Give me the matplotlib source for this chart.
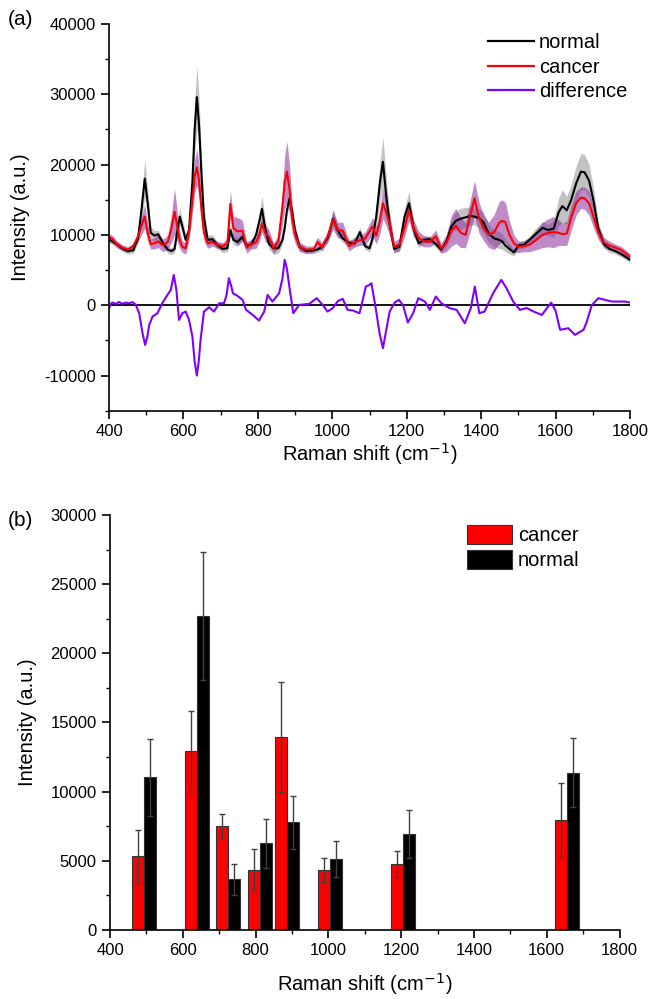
import numpy as np
import matplotlib
matplotlib.use("Agg")
import matplotlib.pyplot as plt
from matplotlib.patches import Patch
from matplotlib.lines import Line2D

plt.rcParams['font.family'] = ['Liberation Sans', 'DejaVu Sans']
plt.rcParams['axes.unicode_minus'] = False

# ---- panel (a): mean spectra ----
shift = [400, 410, 420, 435, 450, 465, 478, 487, 496, 504, 512, 522, 532, 545, 558, 568,
         576, 583, 590, 597, 606, 615, 624, 630, 636, 642, 648, 655, 665, 678, 690, 705,
         718, 726, 734, 745, 758, 770, 782, 795, 804, 811, 820, 830, 842, 855, 866, 872,
         878, 885, 892, 900, 912, 930, 950, 960, 972, 988, 1002, 1014, 1028, 1045, 1060,
         1074, 1088, 1100, 1108, 1118, 1128, 1136, 1144, 1154, 1166, 1180, 1194, 1206,
         1218, 1232, 1246, 1262, 1278, 1292, 1306, 1320, 1332, 1345, 1358, 1370, 1382,
         1394, 1406, 1420, 1435, 1448, 1456, 1465, 1476, 1488, 1500, 1515, 1530, 1548,
         1565, 1580, 1595, 1608, 1618, 1630, 1642, 1655, 1668, 1678, 1690, 1702, 1715,
         1730, 1745, 1760, 1775, 1790, 1800]

normal = [9400, 9000, 8700, 8100, 7700, 7800, 9500, 13500, 18000, 14500, 10300, 9900, 10100,
          8800, 7900, 7700, 8000, 10400, 12600, 11200, 9300, 10700, 17500, 25000, 29600,
          25500, 19000, 12500, 9300, 9400, 8600, 8000, 8100, 10700, 9300, 9000, 9700, 8500,
          8600, 10000, 12000, 13700, 10800, 8700, 8100, 8100, 9300, 11000, 13500, 15200,
          13300, 10500, 8300, 7700, 7800, 7900, 8300, 9600, 12300, 10700, 9500, 8900, 8800,
          10400, 8400, 8100, 9500, 12600, 17500, 20400, 16000, 11500, 8000, 8300, 12600,
          14500, 11000, 8800, 9300, 9400, 8700, 7900, 9000, 11200, 12000, 12300, 12500,
          12700, 12600, 12400, 11800, 10200, 9500, 9300, 9100, 8500, 8000, 7500, 8500,
          8600, 9300, 10200, 11000, 10700, 10900, 13200, 14100, 13500, 15000, 17300, 19000,
          18900, 17700, 14800, 10800, 8700, 8000, 7700, 7300, 6800, 6450]

normal_sd = [500, 400, 400, 400, 400, 400, 700, 1500, 2700, 2000, 900, 700, 600, 500, 500,
             500, 600, 900, 1200, 1000, 800, 900, 2500, 3800, 4400, 3800, 2500, 1500, 700,
             600, 500, 500, 500, 900, 700, 600, 600, 500, 500, 700, 1200, 1800, 1200, 700,
             900, 700, 600, 700, 900, 1000, 900, 700, 500, 400, 400, 400, 400, 600, 1100,
             800, 600, 500, 500, 700, 500, 500, 700, 1500, 2800, 3500, 2800, 1500, 600, 600,
             1200, 1700, 1200, 600, 500, 500, 500, 500, 700, 1000, 1300, 1500, 1400, 1300,
             1200, 1300, 1500, 1300, 1200, 1200, 1100, 900, 700, 500, 500, 500, 600, 800,
             900, 800, 1200, 2000, 2300, 2000, 2200, 2500, 2600, 2500, 2300, 1800, 1000,
             600, 500, 400, 400, 400, 300]

cancer = [9700, 9400, 8700, 8200, 7900, 8400, 9800, 11300, 12600, 10300, 8700, 8800, 9100,
          8500, 9000, 11000, 13300, 11300, 9300, 8300, 8100, 10500, 15000, 18300, 19600,
          17700, 13800, 10300, 8800, 9000, 8600, 8400, 8800, 14400, 11000, 10500, 10600,
          8200, 8700, 8900, 10000, 11600, 10200, 9700, 8100, 9100, 14000, 17500, 19000,
          16500, 12300, 10000, 8300, 7900, 7950, 9000, 8300, 9800, 12200, 10700, 10600,
          8400, 9000, 9200, 9500, 10500, 11200, 9900, 12000, 14500, 13300, 11500, 8300,
          8600, 11000, 13500, 11000, 9600, 9100, 9000, 9800, 8100, 8800, 10600, 11300,
          10300, 10000, 12600, 15200, 12500, 11000, 10000, 10400, 11700, 12000, 11800,
          10000, 8800, 8300, 8400, 8600, 9300, 10000, 10300, 10400, 10300, 10100, 10200,
          12500, 14500, 15300, 15200, 14500, 12500, 10300, 8900, 8500, 8200, 7900, 7300, 6900]

cancer_sd = [500, 500, 500, 400, 400, 400, 700, 1300, 1700, 1200, 700, 800, 900, 900, 1000,
             2000, 3300, 2200, 1200, 800, 800, 1200, 2000, 2400, 2600, 2300, 1800, 1200, 700,
             600, 500, 500, 700, 1900, 1600, 2000, 1500, 800, 700, 800, 1000, 1200, 1200,
             1000, 700, 900, 2500, 3800, 4300, 3500, 2000, 1200, 700, 500, 500, 700, 600,
             800, 1400, 1100, 1200, 700, 700, 700, 900, 1100, 1300, 1200, 1800, 2200, 1900,
             1500, 800, 900, 1300, 1500, 1200, 900, 800, 700, 900, 700, 1200, 2200, 2500,
             2100, 1800, 2200, 2500, 2200, 1800, 1800, 2500, 3000, 3000, 2800, 2000, 1200,
             800, 800, 1000, 1400, 1800, 2000, 2200, 1800, 1600, 1700, 1800, 1700, 1500,
             1600, 1700, 1500, 1000, 700, 600, 500, 500, 500, 400]

diff_shift = [400, 405, 409, 418, 427, 436, 445, 454, 463, 472, 481, 490, 497, 503, 508, 517,
              530, 543, 557, 566, 574, 581, 588, 597, 606, 615, 624, 630, 636, 641, 646, 655,
              669, 682, 696, 709, 716, 722, 728, 733, 745, 759, 768, 786, 803, 817, 826, 839,
              857, 866, 872, 878, 882, 895, 911, 938, 958, 974, 987, 1001, 1015, 1028, 1041,
              1056, 1073, 1082, 1090, 1100, 1105, 1112, 1118, 1127, 1136, 1145, 1154, 1168,
              1179, 1190, 1203, 1217, 1231, 1249, 1262, 1278, 1293, 1316, 1334, 1356, 1372,
              1383, 1395, 1409, 1432, 1454, 1468, 1486, 1504, 1522, 1545, 1563, 1588, 1600,
              1612, 1634, 1652, 1675, 1684, 1697, 1715, 1751, 1787, 1800]
difference = [-430, 200, 380, 190, 450, 190, 380, 250, 450, 50, -1140, -3980, -5640, -4500,
              -2800, -1610, -1140, 280, 1470, 2180, 4310, 2180, -2090, -1140, -900, -2090,
              -4460, -8000, -10000, -8000, -4930, -900, -280, -900, 280, 280, 1500, 3840,
              2800, 1700, 1330, 760, -660, -1370, -2180, -900, 1470, 520, 1700, 3800, 6450,
              5200, 3600, -1140, 50, 190, 1000, 50, -900, -430, 600, 900, -660, -760, -1140,
              800, 2650, 2890, 3130, 1000, -900, -4000, -6110, -3500, -900, 400, 760, 0,
              -2460, -1140, 1000, 520, -660, 1230, 280, -430, -660, -2560, -430, 2650, -1140,
              -900, 1700, 3600, 2420, 520, -660, -400, -1000, -1380, 370, -800, -3500, -3270,
              -4220, -3500, -2300, 0, 1000, 520, 520, 380]

# ---- panel (b): band intensities ----
band_pos = [494, 638, 725, 812, 886, 1004, 1206, 1655]
cancer_int = [5330, 12940, 7490, 4340, 13950, 4360, 4770, 7950]
cancer_err = [1900, 2860, 920, 1500, 3960, 870, 940, 2650]
normal_int = [11040, 22720, 3660, 6270, 7780, 5130, 6960, 11370]
normal_err = [2770, 4620, 1130, 1760, 1930, 1280, 1735, 2480]

fig = plt.figure(figsize=(6.49, 9.99), dpi=100)

def style_axes(ax):
    for s in ['top', 'right']:
        ax.spines[s].set_visible(False)
    for s in ['left', 'bottom']:
        ax.spines[s].set_linewidth(1.2)
    ax.tick_params(which='major', direction='out', length=6, width=1.2, labelsize=12)
    ax.tick_params(which='minor', direction='out', length=3, width=1.0)
    ax.set_xlim(400, 1800)
    ax.set_xticks(np.arange(400, 1801, 200))
    ax.set_xticks(np.arange(500, 1800, 200), minor=True)
    ax.set_xlabel('Raman shift (cm$^{-1}$)', fontsize=14.5)
    ax.set_ylabel('Intensity (a.u.)', fontsize=14.5)

# (a)
ax1 = fig.add_axes([0.168, 0.5889, 0.8028, 0.3871])
x = np.array(shift)
n = np.array(normal)
c = np.array(cancer)
ax1.fill_between(x, n - np.array(normal_sd), n + np.array(normal_sd),
                 color='#9a9a9a', alpha=0.6, lw=0)
ax1.fill_between(x, c - np.array(cancer_sd), c + np.array(cancer_sd),
                 color='#8a2b9b', alpha=0.55, lw=0)
ax1.axhline(0, color='black', lw=1.3)
ax1.plot(x, n, color='black', lw=1.5, solid_joinstyle='round')
ax1.plot(x, c, color='#ff0000', lw=1.5, solid_joinstyle='round')
ax1.plot(diff_shift, difference, color='#7f00ff', lw=1.5, solid_joinstyle='round')
ax1.set_ylim(-15000, 40000)
ax1.set_yticks(np.arange(-10000, 40001, 10000))
ax1.set_yticks(np.arange(-15000, 40000, 10000), minor=True)
style_axes(ax1)
ax1.xaxis.labelpad = 1.5
ax1.yaxis.labelpad = 10
handles = [Line2D([], [], color='black', lw=1.6),
           Line2D([], [], color='#ff0000', lw=1.6),
           Line2D([], [], color='#7f00ff', lw=1.6)]
fig.legend(handles, ['normal', 'cancer', 'difference'], loc='upper left',
           bbox_to_anchor=(0.7515, 0.967), frameon=False, fontsize=14.5,
           handlelength=2.3, handletextpad=0.25, labelspacing=0.28,
           borderpad=0, borderaxespad=0)

# (b)
ax2 = fig.add_axes([0.1695, 0.0691, 0.7851, 0.4154])
w = 33
pos = np.array(band_pos)
ax2.bar(pos - w / 2, cancer_int, width=w, color='#ff0000', edgecolor='#333333', lw=0.8,
        yerr=cancer_err, error_kw=dict(ecolor='#404040', elinewidth=1.0, capsize=2.5, capthick=1.0))
ax2.bar(pos + w / 2, normal_int, width=w, color='black', edgecolor='#333333', lw=0.8,
        yerr=normal_err, error_kw=dict(ecolor='#404040', elinewidth=1.0, capsize=2.5, capthick=1.0))
ax2.set_ylim(0, 30000)
ax2.set_yticks(np.arange(0, 30001, 5000))
ax2.set_yticks(np.arange(2500, 30000, 5000), minor=True)
style_axes(ax2)
ax2.xaxis.labelpad = 9
ax2.yaxis.labelpad = 10
patches = [Patch(facecolor='#ff0000', edgecolor='#333333', lw=0.8),
           Patch(facecolor='black', edgecolor='#333333', lw=0.8)]
fig.legend(patches, ['cancer', 'normal'], loc='upper left',
           bbox_to_anchor=(0.719, 0.4745), frameon=False, fontsize=14.5,
           handlelength=2.25, handleheight=1.1, handletextpad=0.3, labelspacing=0.2,
           borderpad=0, borderaxespad=0)

fig.text(0.012, 0.98, '(a)', fontsize=15, va='center', ha='left')
fig.text(0.012, 0.479, '(b)', fontsize=15, va='center', ha='left')

fig.savefig('out.png', dpi=100)
